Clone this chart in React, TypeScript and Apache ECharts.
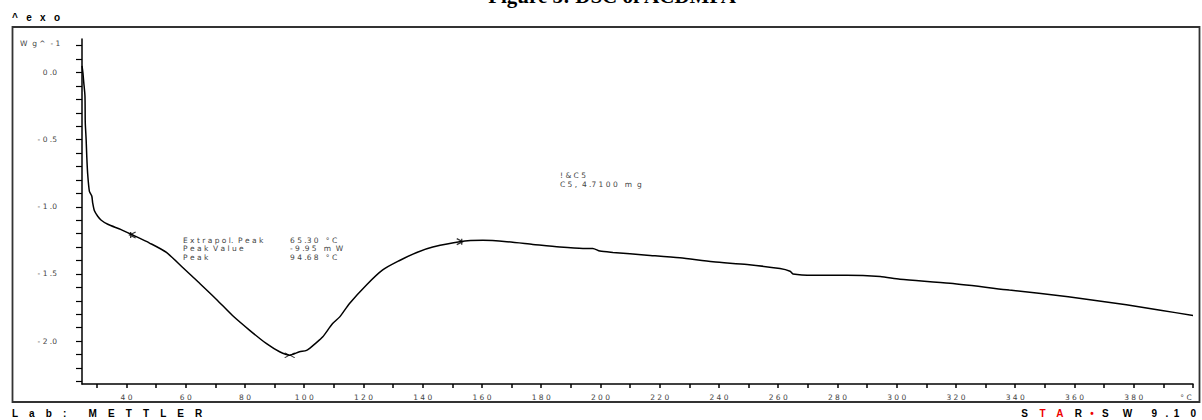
import React, { useEffect, useRef } from "react";
import * as echarts from "echarts";

// Temperature (°C) and heat flow (W g^-1)
const temps = [25.0, 25.3, 25.6, 26.0, 26.1, 26.4, 26.6, 26.9, 27.5, 28.3, 28.6, 29.2, 30.3, 31.5, 33.7, 38.2, 42.1, 47.8, 53.5, 58.9, 64.7, 70.4, 75.8, 81.6, 87.3, 91.7, 95.1, 98.4, 100.8, 104.2, 106.2, 109.6, 112.0, 115.3, 121.1, 126.5, 132.2, 138.0, 143.4, 152.5, 160.3, 168.4, 177.2, 186.3, 194.1, 197.4, 199.8, 204.2, 215.7, 226.8, 238.0, 249.5, 260.6, 264.0, 265.0, 271.8, 283.2, 294.4, 301.1, 318.0, 338.0, 357.9, 377.5, 389.0, 400.0];
const heatFlow = [0.05, 0.0, -0.075, -0.175, -0.37, -0.5, -0.62, -0.75, -0.885, -0.92, -0.97, -1.03, -1.07, -1.10, -1.13, -1.17, -1.21, -1.27, -1.34, -1.45, -1.57, -1.69, -1.81, -1.92, -2.02, -2.08, -2.105, -2.08, -2.07, -2.01, -1.97, -1.87, -1.82, -1.72, -1.58, -1.47, -1.40, -1.34, -1.30, -1.26, -1.25, -1.26, -1.28, -1.30, -1.31, -1.31, -1.33, -1.34, -1.36, -1.38, -1.41, -1.43, -1.46, -1.48, -1.50, -1.51, -1.51, -1.52, -1.54, -1.57, -1.62, -1.67, -1.73, -1.77, -1.81];

// Evaluation markers (onset limits and peak)
const markerLeft = [42.1, -1.21];
const markerPeak = [95.1, -2.105];
const markerRight = [152.5, -1.26];

const xTicks = [30, 40, 50, 60, 70, 80, 90, 100, 110, 120, 130, 140, 150, 160, 170, 180, 190, 200, 210, 220, 230, 240, 250, 260, 270, 280, 290, 300, 310, 320, 330, 340, 350, 360, 370, 380, 390, 400];
const xLabels = [40, 60, 80, 100, 120, 140, 160, 180, 200, 220, 240, 260, 280, 300, 320, 340, 360, 380];
const yTicks = [-2.3, -2.2, -2.1, -2.0, -1.9, -1.8, -1.7, -1.6, -1.5, -1.4, -1.3, -1.2, -1.1, -1.0, -0.9, -0.8, -0.7, -0.6, -0.5, -0.4, -0.3, -0.2, -0.1, 0.0, 0.1, 0.2];
const yLabels = [-2.0, -1.5, -1.0, -0.5, 0.0];

const title = "Figure 5: DSC of ACDMPA";
const xUnit = "° C";
const yUnit = "W  g ^  - 1";
const annotLabels = "E x t r a p o l.  P e a k\nP e a k  V a l u e\nP e a k";
const annotValues = "6 5 .3 0   ° C\n- 9 .9 5   m  W\n9 4 .6 8   ° C";
const sampleText = "! & C 5\nC 5 ,  4 .7 1 0 0   m  g";

const smallFont = '7.5px "DejaVu Sans"';
const grey = "#444";

export default function App() {
  const ref = useRef<HTMLDivElement>(null);
  useEffect(() => {
    document.body.style.margin = "0";
    const chart = echarts.init(ref.current!, null, { renderer: "svg" });
    const data = temps.map((t, i) => [t, heatFlow[i]]);
    chart.setOption({
      animation: false,
      backgroundColor: "#fff",
      grid: { left: 82, top: 39, right: 9, bottom: 36, containLabel: false, outerBoundsMode: "none" },
      xAxis: {
        type: "value",
        min: 25,
        max: 400,
        splitLine: { show: false },
        axisLine: { onZero: false, lineStyle: { color: "#000", width: 1.5 } },
        axisTick: { customValues: xTicks, length: 4, lineStyle: { color: "#000", width: 1.5 } },
        axisLabel: {
          customValues: xLabels,
          margin: 9,
          fontSize: 7.5,
          fontFamily: "DejaVu Sans",
          color: grey,
          hideOverlap: false,
          formatter: (v: number) => String(v).split("").join(" "),
        },
      },
      yAxis: {
        type: "value",
        min: -2.32,
        max: 0.25,
        splitLine: { show: false },
        axisLine: { onZero: false, lineStyle: { color: "#000", width: 1.5 } },
        axisTick: { customValues: yTicks, length: 6, lineStyle: { color: "#000", width: 1.2 } },
        axisLabel: {
          customValues: yLabels,
          margin: 25,
          fontSize: 7.5,
          fontFamily: "DejaVu Sans",
          color: grey,
          formatter: (v: number) => {
            const s = Math.abs(v).toFixed(1).split(".");
            return (v < -1e-9 ? "- " : "") + s[0] + " ." + s[1];
          },
        },
      },
      series: [
        {
          type: "line",
          data,
          showSymbol: false,
          smooth: 0.25,
          lineStyle: { color: "#000", width: 1.5 },
        },
        {
          type: "scatter",
          data: [markerLeft],
          symbol: "path://M6 0 L0 3 L6 6 M1 0 L1 6",
          symbolSize: [6, 6],
          itemStyle: { color: "none", borderColor: "#000", borderWidth: 1.3 },
        },
        {
          type: "scatter",
          data: [markerPeak],
          symbol: "path://M0 0 L5 3 L0 6 M11 0 L6 3 L11 6",
          symbolSize: [10, 5],
          itemStyle: { color: "none", borderColor: "#000", borderWidth: 1 },
        },
        {
          type: "scatter",
          data: [markerRight],
          symbol: "path://M0 0 L6 3 L0 6 M5 0 L5 6",
          symbolSize: [6, 6],
          itemStyle: { color: "none", borderColor: "#000", borderWidth: 1.3 },
        },
      ],
      graphic: [
        {
          type: "rect",
          shape: { x: 12.5, y: 27, width: 1187, height: 375 },
          style: { fill: "none", stroke: "#333", lineWidth: 1.8 },
          silent: true,
        },
        {
          type: "text",
          x: 612,
          y: 6,
          style: { text: title, font: 'bold 21px "Liberation Serif"', fill: "#000", textAlign: "center", textVerticalAlign: "bottom" },
        },
        {
          type: "text",
          x: 12,
          y: 17,
          style: { text: "^   e   x   o", font: 'bold 10px "Liberation Sans"', fill: "#000", textAlign: "left", textVerticalAlign: "middle" },
        },
        {
          type: "text",
          x: 20,
          y: 43,
          style: { text: yUnit, font: smallFont, fill: grey, textAlign: "left", textVerticalAlign: "middle" },
        },
        {
          type: "text",
          x: 1186,
          y: 397,
          style: { text: xUnit, font: smallFont, fill: grey, textAlign: "center", textVerticalAlign: "middle" },
        },
        {
          type: "text",
          x: 183,
          y: 236,
          style: { text: annotLabels, font: smallFont, fill: grey, lineHeight: 8.5, textAlign: "left", textVerticalAlign: "top" },
        },
        {
          type: "text",
          x: 290,
          y: 236,
          style: { text: annotValues, font: smallFont, fill: grey, lineHeight: 8.5, textAlign: "left", textVerticalAlign: "top" },
        },
        {
          type: "text",
          x: 560,
          y: 171,
          style: { text: sampleText, font: smallFont, fill: grey, lineHeight: 9, textAlign: "left", textVerticalAlign: "top" },
        },
        {
          type: "text",
          x: 12,
          y: 413,
          style: { text: "L    a    b    :        M    E    T    T    L    E    R", font: 'bold 10px "Liberation Sans"', fill: "#000", textAlign: "left", textVerticalAlign: "middle" },
        },
        {
          type: "text",
          x: 1196,
          y: 413,
          style: {
            text: "{k|S    }{r|T    A}{k|    R   }{r|•}{k|   S     W       9   .  1    0}",
            font: 'bold 10px "Liberation Sans"',
            textAlign: "right",
            textVerticalAlign: "middle",
            rich: {
              k: { fill: "#000", font: 'bold 10px "Liberation Sans"' },
              r: { fill: "#e00", font: 'bold 10px "Liberation Sans"' },
            },
          },
        },
      ],
    });
    return () => chart.dispose();
  }, []);
  return <div ref={ref} style={{ width: 1202, height: 420 }} />;
}
